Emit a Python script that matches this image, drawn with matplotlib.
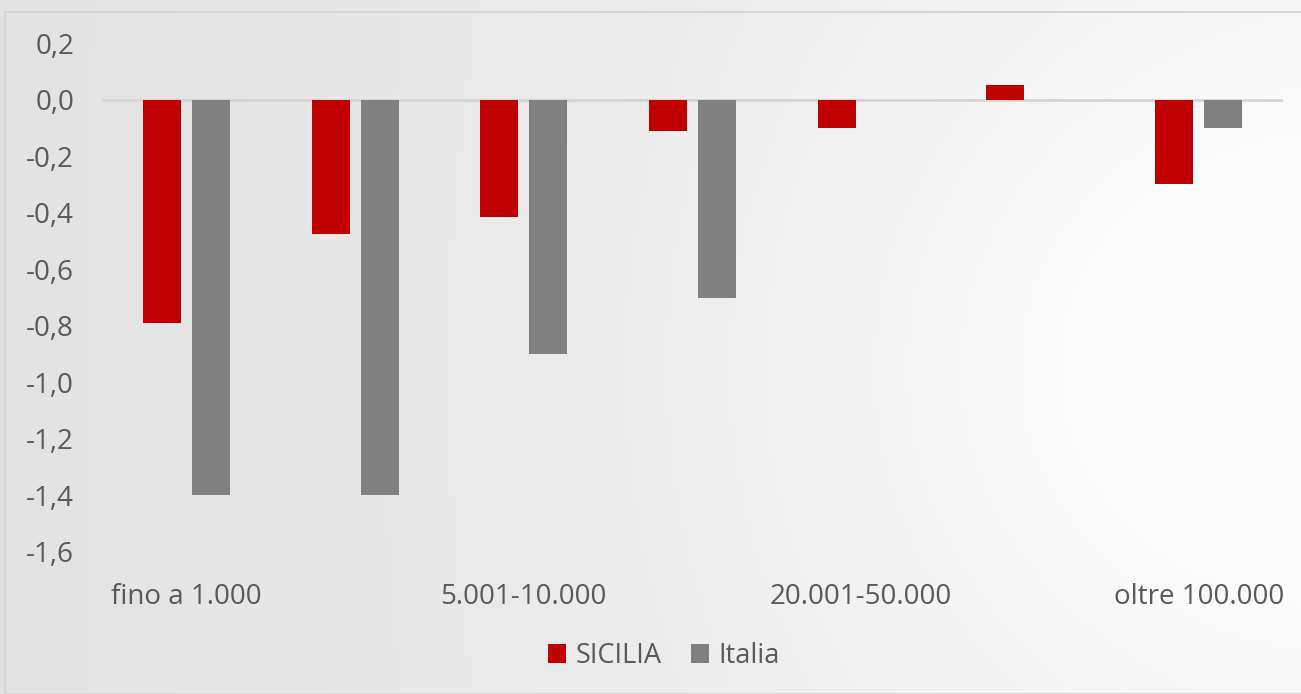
import numpy as np
import matplotlib
matplotlib.use('Agg')
from matplotlib import pyplot as plt
from matplotlib.patches import Rectangle

categories = ['fino a 1.000', '1.001-5.000', '5.001-10.000', '10.001-20.000',
              '20.001-50.000', '50.001-100.000', 'oltre 100.000']
sicilia = [-0.79, -0.475, -0.415, -0.11, -0.10, 0.05, -0.30]
italia = [-1.4, -1.4, -0.9, -0.7, 0.0, 0.0, -0.1]
yticks = [0.2, 0.0, -0.2, -0.4, -0.6, -0.8, -1.0, -1.2, -1.4, -1.6]

plt.rcParams['font.family'] = ['Open Sans', 'DejaVu Sans']
text_color = '#595959'

fig = plt.figure(figsize=(13.01, 6.94), dpi=100)

# background: soft gradient with a light spot on the right
bg = fig.add_axes([0, 0, 1, 1], zorder=-10)
h, w = 347, 650
yy, xx = np.mgrid[0:h, 0:w]
lin = 0.89 + 0.06 * (xx / w)
spot = np.exp(-(((xx - 0.92 * w) / (0.35 * w)) ** 2 + ((yy - 0.53 * h) / (0.6 * h)) ** 2))
val = np.clip(lin + 0.05 * spot, 0, 0.985)
bg.imshow(np.dstack([val, val, val]), aspect='auto', extent=[0, 1, 0, 1], origin='upper')
bg.set_xlim(0, 1)
bg.set_ylim(0, 1)
bg.axis('off')
fig.patches.append(Rectangle((5 / 1301, 0), 1.0, 1 - 12 / 694, transform=fig.transFigure,
                             fill=False, edgecolor='#d6d6d6', linewidth=1.5, zorder=-5))

ax = fig.add_axes([102 / 1301, (694 - 552) / 694, (1283 - 102) / 1301, (552 - 43) / 694])
ax.patch.set_alpha(0)

x = np.arange(len(categories))
width = 0.225
offset = 0.1455
ax.bar(x - offset, sicilia, width, color='#C00000', label='SICILIA', zorder=3)
ax.bar(x + offset, italia, width, color='#808080', label='Italia', zorder=3)

ax.axhline(0, color='#d4d4d4', linewidth=2, zorder=2)
ax.set_xlim(-0.5, len(categories) - 0.5)
ax.set_ylim(-1.6, 0.2)
ax.set_yticks(yticks)
ax.set_yticklabels([('%.1f' % v).replace('.', ',') for v in yticks])
ax.set_xticks(x[::2])
ax.set_xticklabels(categories[::2])
ax.tick_params(length=0, labelsize=20, labelcolor=text_color)
ax.tick_params(axis='y', pad=20)
ax.tick_params(axis='x', pad=22)
for s in ax.spines.values():
    s.set_visible(False)

ax.legend(loc='center', bbox_to_anchor=(664 / 1301, 1 - 656 / 694), bbox_transform=fig.transFigure,
          ncol=2, frameon=False, fontsize=19.5, labelcolor=text_color, handlelength=0.65,
          handleheight=0.65, handletextpad=0.35, columnspacing=1.1)

fig.savefig('out.png', dpi=100)
